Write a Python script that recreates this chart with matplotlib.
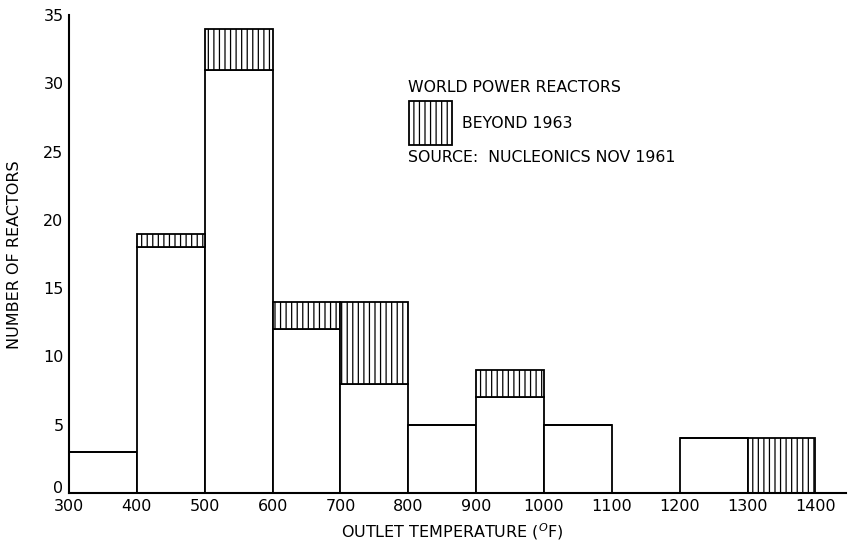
import matplotlib
matplotlib.use("Agg")
import matplotlib.pyplot as plt
from matplotlib.patches import Rectangle

# Reactor counts per 100 °F outlet-temperature band
bin_left = [300, 400, 500, 600, 700, 800, 900, 1000, 1100, 1200, 1300]
existing = [3, 18, 31, 12, 8, 5, 7, 5, 0, 4, 0]
beyond_1963 = [0, 1, 3, 2, 6, 0, 2, 0, 0, 0, 4]

x_ticks = list(range(300, 1500, 100))
y_ticks = list(range(0, 40, 5))

W, H = 848, 546
fig = plt.figure(figsize=(W / 100, H / 100), dpi=100)
plt.rcParams['font.family'] = ['DejaVu Sans']
plt.rcParams['hatch.linewidth'] = 0.9

ax = fig.add_axes([69 / W, (H - 493) / H, (846 - 69) / W, (493 - 15) / H])

lw = 1.3
ax.bar(bin_left, existing, width=100, align='edge', facecolor='white',
       edgecolor='black', linewidth=lw)
ax.bar(bin_left, beyond_1963, width=100, align='edge', bottom=existing,
       facecolor='white', edgecolor='black', linewidth=lw, hatch='|||')

ax.set_xlim(300, 1445)
ax.set_ylim(0, 35)
ax.set_xticks(x_ticks)
ax.set_yticks(y_ticks)
ax.tick_params(length=0, labelsize=11.5)
ax.tick_params(axis='x', pad=4)
ax.tick_params(axis='y', pad=4)
for side in ('top', 'right'):
    ax.spines[side].set_visible(False)
for side in ('left', 'bottom'):
    ax.spines[side].set_linewidth(1.5)

# the zero label sits on the baseline, above the x tick labels
fig.canvas.draw()
ax.get_yticklabels()[0].set_verticalalignment('baseline')

# Axis titles
fig.text(452 / W, 1 - 532 / H, r'OUTLET TEMPERATURE ($^{O}$F)',
         ha='center', va='center', fontsize=11.5)
fig.text(15 / W, 1 - 255 / H, 'NUMBER OF REACTORS', rotation=90,
         ha='center', va='center', fontsize=11.5)

# Key block
fs = 11.3
fig.text(408 / W, 1 - 87 / H, 'WORLD POWER REACTORS', ha='left',
         va='center', fontsize=fs)
fig.patches.append(Rectangle((409 / W, 1 - 145 / H), 43 / W, 44 / H,
                             transform=fig.transFigure, facecolor='white',
                             edgecolor='black', linewidth=1.3, hatch='|||'))
fig.text(462 / W, 1 - 123 / H, 'BEYOND 1963', ha='left', va='center',
         fontsize=fs)
fig.text(408 / W, 1 - 157 / H, 'SOURCE:  NUCLEONICS NOV 1961', ha='left',
         va='center', fontsize=fs)

fig.savefig('out.png', dpi=100, facecolor='white')
